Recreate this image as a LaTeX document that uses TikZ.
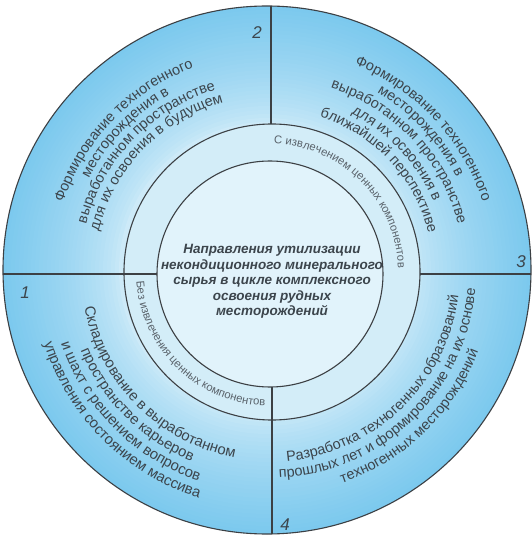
\documentclass[tikz,border=0pt]{standalone}
\usepackage{fontspec}
\setmainfont{Liberation Sans}
\usetikzlibrary{decorations.text}
\definecolor{bandin}{HTML}{CDEAF8}
\definecolor{bandout}{HTML}{7CC9EE}
\definecolor{ringc}{HTML}{D3EDF8}
\definecolor{corec}{HTML}{E1F3FB}
\definecolor{linec}{HTML}{3C4044}
\definecolor{txtc}{HTML}{3C454C}
\definecolor{smalltxt}{HTML}{5A636B}
% clockwise text, tops outward: radius, centre angle, font size, colour, text
\newcommand{\cwline}[5]{%
  \path[decorate,decoration={text along path,text align=center,
    text={|\fontsize{#3}{#3}\selectfont\color{#4}|#5}}]
    ({#2+75}:#1pt) arc[start angle={#2+75},end angle={#2-75},radius=#1pt];}
% counter-clockwise text, tops inward
\newcommand{\ccwline}[5]{%
  \path[decorate,decoration={text along path,text align=center,
    text={|\fontsize{#3}{#3}\selectfont\color{#4}|#5}}]
    ({#2-75}:#1pt) arc[start angle={#2-75},end angle={#2+75},radius=#1pt];}
\tikzset{
  divider/.style={draw=linec,line width=1.1pt},
  rim/.style={draw=linec,line width=1.1pt},
  numlbl/.style={font=\fontsize{17}{17}\selectfont\itshape,text=txtc,inner sep=0pt},
  titletext/.style={align=center,font=\fontsize{13.5}{15.5}\selectfont\bfseries\itshape,text=txtc,inner sep=0pt}
}
\begin{document}
\begin{tikzpicture}[x=1pt,y=1pt]
\fill[white] (-270,-266) rectangle (262,272);
\useasboundingbox (-270,-266) rectangle (262,272);
\coordinate (Oo) at (-3,2);
\coordinate (Om) at (2,0);
\coordinate (Oi) at (0,-2);
% outer band: stepped radial gradient
\foreach \i in {0,...,29} {
  \pgfmathsetmacro\rr{264-\i*4}
  \pgfmathsetmacro\pc{100*((\rr-148)/116)^0.7}
  \fill[bandout!\pc!bandin] (Oo) circle[radius=\rr pt];
}
\fill[ringc] (Om) circle[radius=148pt];
\fill[corec] (Oi) circle[radius=113pt];
% dividers
\coordinate (tA) at (1,148);   \coordinate (tB) at (1,266);
\coordinate (bA) at (2,-115);  \coordinate (bB) at (2,-262);
\coordinate (lA) at (-113,-2); \coordinate (lB) at (-267,-2);
\coordinate (rA) at (150,-2);  \coordinate (rB) at (261,-2);
\draw[divider] (tA) -- (tB);
\draw[divider] (bA) -- (bB);
\draw[divider] (lA) -- (lB);
\draw[divider] (rA) -- (rB);
% circles
\draw[rim] (Oo) circle[radius=264pt];
\draw[divider] (Om) circle[radius=148pt];
\draw[divider] (Oi) circle[radius=113pt];
% sector 2 (upper left)
\cwline{218}{136}{14.5}{txtc}{Формирование техногенного}
\cwline{204}{136}{14.5}{txtc}{месторождения в}
\cwline{190}{136}{14.5}{txtc}{выработанном пространстве}
\cwline{176}{136}{14.5}{txtc}{для их освоения в будущем}
% sector 3 (upper right)
\cwline{224}{43}{14.5}{txtc}{Формирование техногенного}
\cwline{209}{43}{14.5}{txtc}{месторождения в}
\cwline{194}{43}{14.5}{txtc}{выработанном пространстве}
\cwline{178}{43}{14.5}{txtc}{для их освоения в}
\cwline{163}{43}{14.5}{txtc}{ближайшей перспективе}
% sector 1 (lower left)
\ccwline{189}{225}{14.8}{txtc}{Складирование в выработанном}
\ccwline{205}{225}{14.8}{txtc}{пространстве карьеров}
\ccwline{221}{225}{14.8}{txtc}{и шахт с решением вопросов}
\ccwline{237}{225}{14.8}{txtc}{управления состоянием массива}
% sector 4 (lower right)
\ccwline{190}{-46}{14.5}{txtc}{Разработка техногенных образований}
\ccwline{206}{-46}{14.5}{txtc}{прошлых лет и формирование на их основе}
\ccwline{223}{-46}{14.5}{txtc}{техногенных месторождений}
% middle ring
\cwline{128}{45}{11.3}{smalltxt}{С извлечением ценных компонентов}
\ccwline{134}{226}{11.3}{smalltxt}{Без извлечения ценных компонентов}
% numbers
\node[numlbl] (n1) at (-245,-21) {1};
\node[numlbl] (n2) at (-13,239) {2};
\node[numlbl] (n3) at (251,10) {3};
\node[numlbl] (n4) at (15,-253) {4};
% centre
\node[titletext] (title) at (2,-9.5) {Направления утилизации\\некондиционного минерального\\сырья в цикле комплексного\\освоения рудных\\месторождений};
\end{tikzpicture}
\end{document}
